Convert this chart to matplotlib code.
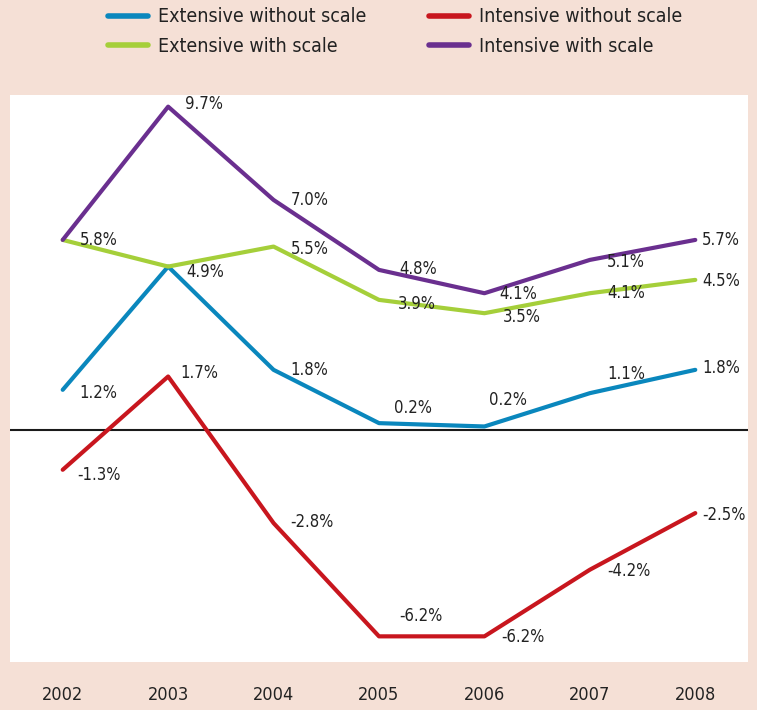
import matplotlib.pyplot as plt
from matplotlib.lines import Line2D
from matplotlib.font_manager import FontProperties

YEARS = ["2002", "2003", "2004", "2005", "2006", "2007", "2008"]

EXT_NO_SCALE = [1.2, 4.9, 1.8, 0.2, 0.1, 1.1, 1.8]
INT_NO_SCALE = [-1.2, 1.6, -2.8, -6.2, -6.2, -4.2, -2.5]
EXT_SCALE = [5.7, 4.9, 5.5, 3.9, 3.5, 4.1, 4.5]
INT_SCALE = [5.7, 9.7, 6.9, 4.8, 4.1, 5.1, 5.7]

EXT_NO_LABELS = ["1.2%", None, "1.8%", "0.2%", "0.2%", "1.1%", "1.8%"]
INT_NO_LABELS = ["-1.3%", "1.7%", "-2.8%", "-6.2%", "-6.2%", "-4.2%", "-2.5%"]
EXT_LABELS = ["5.8%", "4.9%", "5.5%", "3.9%", "3.5%", "4.1%", "4.5%"]
INT_LABELS = [None, "9.7%", "7.0%", "4.8%", "4.1%", "5.1%", "5.7%"]

# label offsets in pixels (dx, dy) relative to the point
EXT_NO_OFF = [(17, -3), None, (17, 0), (15, 15), (5, 26), (17, 19), (7, 2)]
INT_NO_OFF = [(15, -5), (12, 4), (17, 1), (20, 20), (17, -1), (17, -1), (7, -2)]
EXT_OFF = [(17, 0), (18, -5), (17, -2), (19, -4), (18, -4), (17, 0), (7, -1)]
INT_OFF = [None, (17, 3), (17, 0), (20, 1), (15, -1), (17, -2), (7, 0)]

BG = "#f5e0d6"
BLUE = "#0a87bd"
RED = "#c8161e"
GREEN = "#a5cf3a"
PURPLE = "#6a2f8f"

plt.rcParams["font.family"] = ["DejaVu Sans"]
plt.rcParams["font.stretch"] = "condensed"

fig = plt.figure(figsize=(7.57, 7.10), dpi=100, facecolor=BG)
ax = fig.add_axes([10 / 757, 1 - 662 / 710, 738 / 757, 567 / 710])
ax.set_facecolor("white")

x = list(range(len(YEARS)))
ax.axhline(0, color="#1a1a1a", lw=1.5, zorder=1)

series = [
    (EXT_NO_SCALE, EXT_NO_LABELS, EXT_NO_OFF, BLUE),
    (INT_NO_SCALE, INT_NO_LABELS, INT_NO_OFF, RED),
    (EXT_SCALE, EXT_LABELS, EXT_OFF, GREEN),
    (INT_SCALE, INT_LABELS, INT_OFF, PURPLE),
]
for values, labels, offs, color in series:
    ax.plot(x, values, color=color, lw=3, solid_capstyle="round", zorder=2)
    for xi, v, lab, off in zip(x, values, labels, offs):
        if lab is None:
            continue
        ax.annotate(lab, (xi, v), xytext=off, textcoords="offset pixels",
                    ha="left", va="center", fontsize=12, color="#222222",
                    zorder=3)

ax.set_xlim(-0.5, 6.5)
ax.set_ylim(-6.97, 10.05)
ax.set_xticks(x)
ax.set_xticklabels(YEARS, fontsize=13, color="#222222")
ax.tick_params(axis="x", length=0, pad=17)
ax.set_yticks([])
for sp in ax.spines.values():
    sp.set_visible(False)

handles = [
    Line2D([], [], color=BLUE, lw=4, solid_capstyle="round"),
    Line2D([], [], color=GREEN, lw=4, solid_capstyle="round"),
    Line2D([], [], color=RED, lw=4, solid_capstyle="round"),
    Line2D([], [], color=PURPLE, lw=4, solid_capstyle="round"),
]
names = ["Extensive without scale", "Extensive with scale",
         "Intensive without scale", "Intensive with scale"]
fig.legend(handles, names, ncol=2, loc="upper left",
           bbox_to_anchor=(90 / 757, 1 + 10 / 710), frameon=False,
           handlelength=2.1, handletextpad=0.5, columnspacing=3.2,
           labelspacing=0.55,
           prop=FontProperties(family="DejaVu Sans", stretch="condensed", size=14),
           labelcolor="#222222")

fig.savefig("out.png", dpi=100, facecolor=BG)
